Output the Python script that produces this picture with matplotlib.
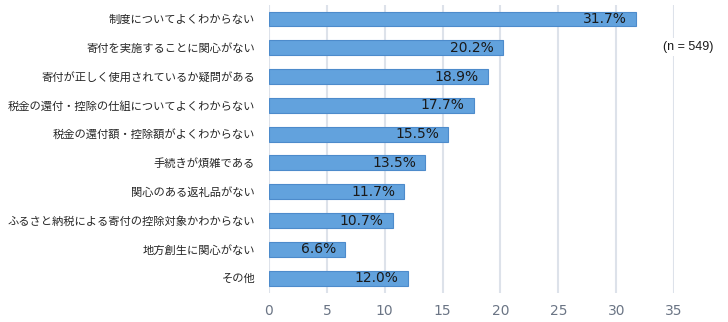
import matplotlib
matplotlib.use("Agg")
import matplotlib.pyplot as plt

plt.rcParams['font.family'] = ['Noto Sans CJK JP', 'DejaVu Sans']

categories = [
    "制度についてよくわからない",
    "寄付を実施することに関心がない",
    "寄付が正しく使用されているか疑問がある",
    "税金の還付・控除の仕組についてよくわからない",
    "税金の還付額・控除額がよくわからない",
    "手続きが煩雑である",
    "関心のある返礼品がない",
    "ふるさと納税による寄付の控除対象かわからない",
    "地方創生に関心がない",
    "その他",
]
values = [31.7, 20.2, 18.9, 17.7, 15.5, 13.5, 11.7, 10.7, 6.6, 12.0]
xticks = [0, 5, 10, 15, 20, 25, 30, 35]
note = "(n = 549)"

fig = plt.figure(figsize=(7.28, 3.22), dpi=100)
ax = fig.add_axes([0.3695, 0.0916, 0.5565, 0.8941])

pos = list(range(len(categories)))
ax.barh(pos, values, height=0.52, color="#62a2dd", edgecolor="#4d8bcb",
        linewidth=0.8, zorder=3)

for p, v in zip(pos, values):
    ax.text(v - 0.8, p, f"{v:.1f}%", ha="right", va="center",
            fontsize=10, color="#1a1a1a", family="DejaVu Sans", zorder=4)

ax.set_ylim(len(categories) - 0.5, -0.5)
ax.set_xlim(0, 35)
ax.set_xticks(xticks)
ax.set_yticks(pos)
ax.set_yticklabels(categories, fontsize=8.1, color="#262626")
ax.tick_params(axis="y", length=0, pad=10)
ax.tick_params(axis="x", length=0, pad=8, labelsize=10, labelcolor="#6b7585")
for lbl in ax.get_xticklabels():
    lbl.set_family("DejaVu Sans")

ax.grid(axis="x", color="#dde2ea", linewidth=1.5, zorder=0)
for s in ax.spines.values():
    s.set_visible(False)

ax.text(1.035, 0.853, note, transform=ax.transAxes, ha="center", va="center",
        fontsize=9, color="#1a1a1a", family="Liberation Sans", clip_on=False,
        bbox=dict(facecolor="white", edgecolor="none", pad=2), zorder=5)

fig.savefig("out.png", dpi=100)
